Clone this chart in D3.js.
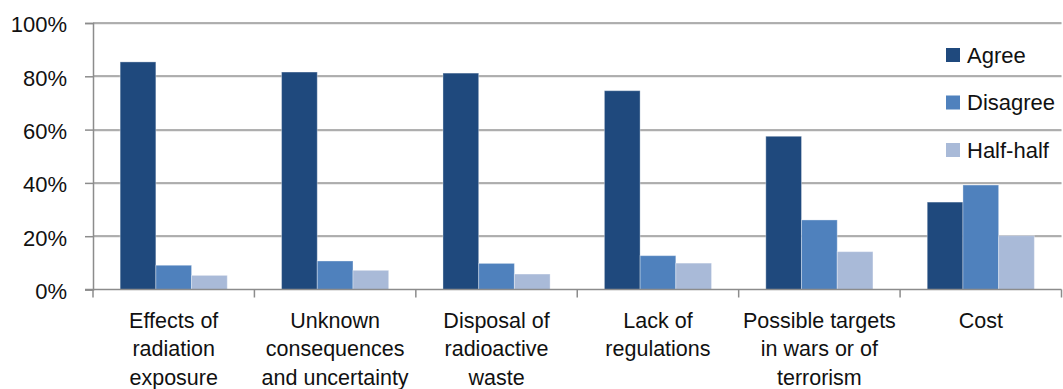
<!DOCTYPE html>
<html>
<head>
<meta charset="utf-8">
<script src="https://cdn.jsdelivr.net/npm/d3@7"></script>
<style>
  html, body { margin: 0; padding: 0; background: #fff; }
  svg { display: block; font-family: "Liberation Sans", Arial, sans-serif; }
</style>
</head>
<body>
<svg id="chart" width="1063" height="389"></svg>
<script>
// Survey responses per concern (share of respondents)
const categories = [
  ["Effects of", "radiation", "exposure"],
  ["Unknown", "consequences", "and uncertainty"],
  ["Disposal of", "radioactive", "waste"],
  ["Lack of", "regulations"],
  ["Possible targets", "in wars or of", "terrorism"],
  ["Cost"]
];
const seriesNames = ["Agree", "Disagree", "Half-half"];
const agree    = [0.854, 0.816, 0.812, 0.746, 0.575, 0.328];
const disagree = [0.091, 0.107, 0.098, 0.127, 0.261, 0.392];
const halfHalf = [0.053, 0.072, 0.058, 0.099, 0.142, 0.202];
const yTicks = [0, 0.2, 0.4, 0.6, 0.8, 1.0];

const colors = ["#1f497d", "#4f81bd", "#a9bad8"];
const seriesValues = [agree, disagree, halfHalf];

const svg = d3.select("#chart");
const W = 1063, H = 389;
const margin = { top: 23, right: 1.5, bottom: 99.5, left: 93 };

const catKeys = categories.map((c, i) => i);
const x = d3.scaleBand().domain(catKeys).range([margin.left, W - margin.right]).padding(0);
const xInner = d3.scaleBand().domain(seriesNames).range([0, x.bandwidth()])
  .paddingInner(0).paddingOuter(0.76);
const y = d3.scaleLinear().domain([0, 1]).range([H - margin.bottom, margin.top]);

// Gridlines
const grid = svg.append("g");
yTicks.filter(t => t > 0).forEach(t => {
  const yy = Math.round(y(t));
  grid.append("line").attr("x1", margin.left).attr("x2", W - margin.right)
    .attr("y1", yy + 1).attr("y2", yy + 1).attr("stroke", "#dadada").attr("stroke-width", 1);
  grid.append("line").attr("x1", margin.left).attr("x2", W - margin.right)
    .attr("y1", yy).attr("y2", yy).attr("stroke", "#979797").attr("stroke-width", 1.3);
});

// Bars
const groups = svg.append("g").selectAll("g")
  .data(catKeys).join("g")
  .attr("transform", i => `translate(${x(i)},0)`);
groups.selectAll("rect")
  .data(i => seriesNames.map((s, k) => ({ s, k, v: seriesValues[k][i] })))
  .join("rect")
  .attr("x", d => xInner(d.s))
  .attr("width", xInner.bandwidth())
  .attr("y", d => y(d.v))
  .attr("height", d => y(0) - y(d.v))
  .attr("fill", d => colors[d.k])
  .attr("stroke", "rgba(255,255,255,0.35)")
  .attr("stroke-width", 1);

// Y axis
const yAxis = d3.axisLeft(y).tickValues(yTicks).tickFormat(d3.format(".0%"))
  .tickSize(8).tickPadding(18);
const gy = svg.append("g").attr("transform", `translate(${margin.left},0)`).call(yAxis);
gy.select(".domain").attr("stroke", "#8c8c8c").attr("stroke-width", 1.5);
gy.selectAll(".tick line").attr("stroke", "#8c8c8c").attr("stroke-width", 1.5);
gy.selectAll(".tick text").attr("font-size", 22).attr("fill", "#111")
  .attr("font-family", "'Liberation Sans', Arial, sans-serif").attr("dy", "0.4em");

// X axis baseline with boundary ticks
const gx = svg.append("g");
gx.append("line").attr("x1", margin.left - 8).attr("x2", W - margin.right)
  .attr("y1", y(0)).attr("y2", y(0)).attr("stroke", "#8c8c8c").attr("stroke-width", 1.5);
const bounds = catKeys.map(i => x(i)).concat([x(catKeys[catKeys.length - 1]) + x.bandwidth()]);
gx.selectAll("line.b").data(bounds).join("line").attr("class", "b")
  .attr("x1", d => d).attr("x2", d => d)
  .attr("y1", y(0)).attr("y2", y(0) + 8)
  .attr("stroke", "#8c8c8c").attr("stroke-width", 1.5);

// Category labels
const labels = svg.append("g").selectAll("text")
  .data(catKeys).join("text")
  .attr("x", i => x(i) + x.bandwidth() / 2)
  .attr("y", 328)
  .attr("text-anchor", "middle")
  .attr("font-size", 21.5)
  .attr("fill", "#111");
labels.selectAll("tspan").data(i => categories[i]).join("tspan")
  .attr("x", function () { return d3.select(this.parentNode).attr("x"); })
  .attr("dy", (d, j) => j === 0 ? 0 : 28.3)
  .text(d => d);

// Legend
const legend = svg.append("g").attr("transform", "translate(946,55)");
const items = legend.selectAll("g").data(seriesNames).join("g")
  .attr("transform", (d, k) => `translate(0,${k * 47.5})`);
items.append("rect").attr("x", 0).attr("y", -7).attr("width", 14).attr("height", 14)
  .attr("fill", (d, k) => colors[k]);
items.append("text").attr("x", 21).attr("y", 0).attr("dy", "0.36em")
  .attr("font-size", 22).attr("fill", "#111").text(d => d);
</script>
</body>
</html>
